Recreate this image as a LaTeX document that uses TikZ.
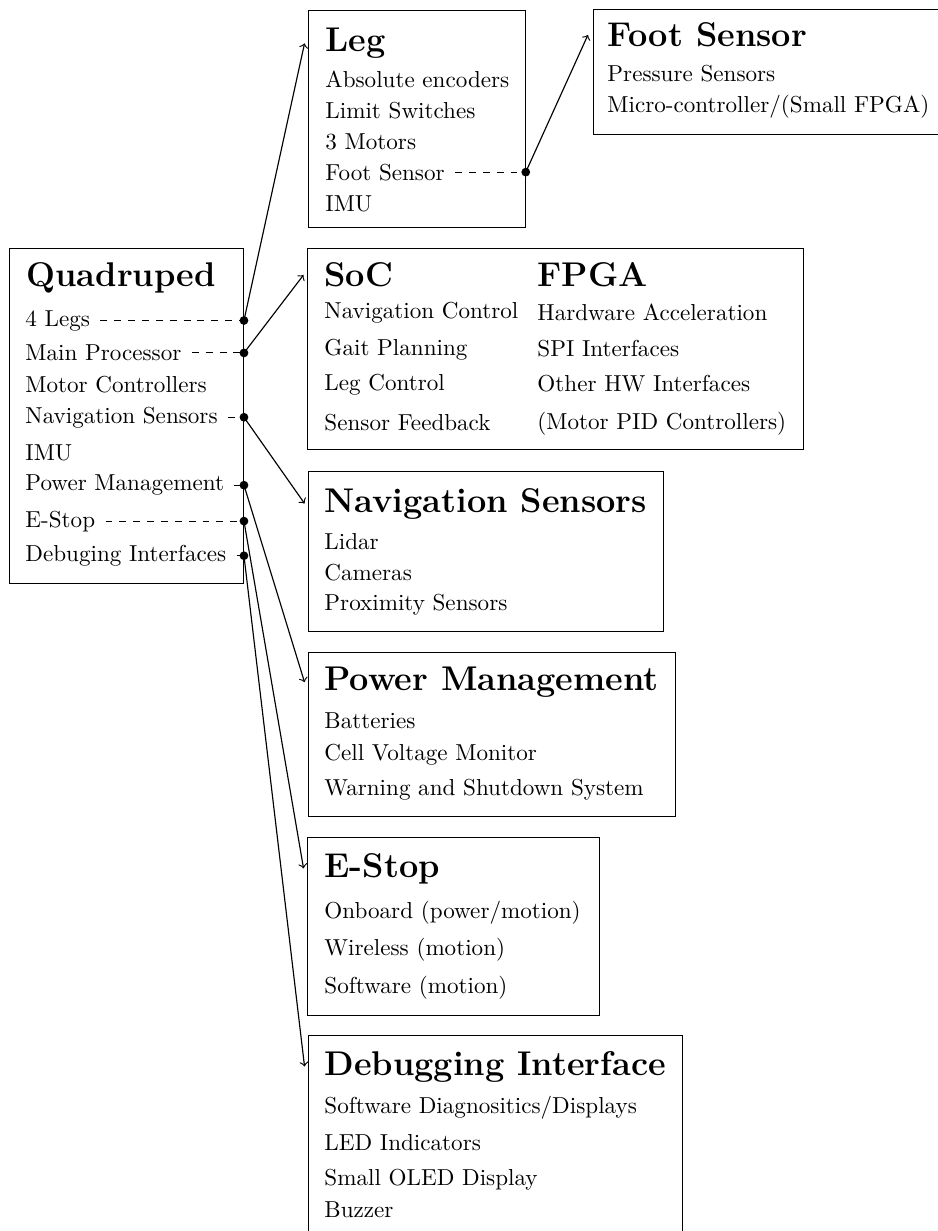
\documentclass[tikz,border=0pt]{standalone}
\usetikzlibrary{fit}
\begin{document}
\begin{tikzpicture}[x=0.4329pt,y=-0.4329pt,
  box/.style={draw,inner sep=0pt},
  txt/.style={anchor=base west,inner sep=0pt},
  ttl/.style={anchor=base west,inner sep=0pt,font=\fontsize{14.85}{18}\selectfont\bfseries},
  dot/.style={circle,fill,inner sep=0pt,minimum size=3.8pt},
  leader/.style={dashed,line width=0.45pt},
  conn/.style={->,line width=0.5pt}]
\useasboundingbox (0,0) rectangle (938,1231);

% ---- Quadruped (top level) ----
\node[box,fit={(9,248) (243.5,583)}] (quad) {};
\node[ttl] (qT) at (26,286.7) {Quadruped};
\node[txt] (qLegs)  at (25,326)   {4 Legs};
\node[txt] (qProc)  at (25,360.7) {Main Processor};
\node[txt] (qMotor) at (25,392.7) {Motor Controllers};
\node[txt] (qNav)   at (25,423)   {Navigation Sensors};
\node[txt] (qIMU)   at (25,460)   {IMU};
\node[txt] (qPower) at (25,490.7) {Power Management};
\node[txt] (qStop)  at (25,527)   {E-Stop};
\node[txt] (qDebug) at (25,561.5) {Debuging Interfaces};

% ---- Leg ----
\node[box,fit={(308,10) (525.3,227.7)}] (leg) {};
\node[ttl] (legT) at (325,51.7) {Leg};
\node[txt] (legEnc)  at (325,87.3)  {Absolute encoders};
\node[txt] (legLim)  at (325,118.3) {Limit Switches};
\node[txt] (legMot)  at (325,149)   {3 Motors};
\node[txt] (legFoot) at (325,180)   {Foot Sensor};
\node[txt] (legIMU)  at (325,211.7) {IMU};

% ---- Foot Sensor ----
\node[box,fit={(593,9.5) (944,134)}] (foot) {};
\node[ttl] (footT) at (607,46.7) {Foot Sensor};
\node[txt] (footP) at (607,81.7) {Pressure Sensors};
\node[txt] (footM) at (607,112)  {Micro-controller/(Small FPGA)};

% ---- SoC / FPGA ----
\node[box,fit={(307,248) (803,449)}] (soc) {};
\node[ttl] (socT)  at (324,286.7) {SoC};
\node[txt] (socNav)  at (324,318.3) {Navigation Control};
\node[txt] (socGait) at (324,355)   {Gait Planning};
\node[txt] (socLeg)  at (324,390)   {Leg Control};
\node[txt] (socSens) at (324,430)   {Sensor Feedback};
\node[ttl] (fpgaT) at (537,286.7) {FPGA};
\node[txt] (fpgaHW)  at (537,320)   {Hardware Acceleration};
\node[txt] (fpgaSPI) at (537,356)   {SPI Interfaces};
\node[txt] (fpgaIF)  at (537,391)   {Other HW Interfaces};
\node[txt] (fpgaPID) at (537,429)   {(Motor PID Controllers)};

% ---- Navigation Sensors ----
\node[box,fit={(308,471) (663,631)}] (nav) {};
\node[ttl] (navT) at (324,512) {Navigation Sensors};
\node[txt] (navL) at (324,549) {Lidar};
\node[txt] (navC) at (324,580) {Cameras};
\node[txt] (navP) at (324,610) {Proximity Sensors};

% ---- Power Management ----
\node[box,fit={(308,652) (675,816)}] (pow) {};
\node[ttl] (powT) at (324,690.5) {Power Management};
\node[txt] (powB) at (324,728) {Batteries};
\node[txt] (powC) at (324,760) {Cell Voltage Monitor};
\node[txt] (powW) at (324,795) {Warning and Shutdown System};

% ---- E-Stop ----
\node[box,fit={(307,837) (599,1015)}] (stop) {};
\node[ttl] (stopT) at (324,877) {E-Stop};
\node[txt] (stopO) at (324,918) {Onboard (power/motion)};
\node[txt] (stopW) at (324,955) {Wireless (motion)};
\node[txt] (stopS) at (324,993) {Software (motion)};

% ---- Debugging Interface ----
\node[box,fit={(308,1035) (682,1260)}] (dbg) {};
\node[ttl] (dbgT) at (324,1075) {Debugging Interface};
\node[txt] (dbgS) at (324,1113) {Software Diagnositics/Displays};
\node[txt] (dbgL) at (324,1150) {LED Indicators};
\node[txt] (dbgO) at (324,1185) {Small OLED Display};
\node[txt] (dbgB) at (324,1217) {Buzzer};

% ---- junction dots on the box edges ----
\node[dot] (dLegs)  at (quad.east |- qLegs.east)  {};
\node[dot] (dProc)  at (quad.east |- qProc.east)  {};
\node[dot] (dNav)   at (quad.east |- qNav.east)   {};
\node[dot] (dPower) at (quad.east |- qPower.east) {};
\node[dot] (dStop)  at (quad.east |- qStop.east)  {};
\node[dot] (dDebug) at (quad.east |- qDebug.east) {};
\node[dot] (dFoot)  at (leg.east |- legFoot.east) {};

% ---- dashed leaders ----
\draw[leader] ([xshift=4.3pt]qLegs.east)  -- (dLegs.center);
\draw[leader] ([xshift=4.3pt]qProc.east)  -- (dProc.center);
\draw[leader] ([xshift=4.3pt]qNav.east)   -- (dNav.center);
\draw[leader] ([xshift=4.3pt]qPower.east) -- (dPower.center);
\draw[leader] ([xshift=4.3pt]qStop.east)  -- (dStop.center);
\draw[leader] ([xshift=4.3pt]qDebug.east) -- (dDebug.center);
\draw[leader] ([xshift=4.3pt]legFoot.east) -- (dFoot.center);

% ---- connectors ----
\draw[conn] (dLegs.center)  -- ([xshift=-1.3pt]leg.west |- legT.center);
\draw[conn] (dProc.center)  -- ([xshift=-1.3pt]soc.west |- socT.center);
\draw[conn] (dNav.center)   -- ([xshift=-1.3pt]nav.west |- navT.center);
\draw[conn] (dPower.center) -- ([xshift=-1.3pt]pow.west |- powT.center);
\draw[conn] (dStop.center)  -- ([xshift=-1.3pt]stop.west |- stopT.center);
\draw[conn] (dDebug.center) -- ([xshift=-1.3pt]dbg.west |- dbgT.center);
\draw[conn] (dFoot.center)  -- ([xshift=-2pt]foot.west |- footT.center);
\end{tikzpicture}
\end{document}
